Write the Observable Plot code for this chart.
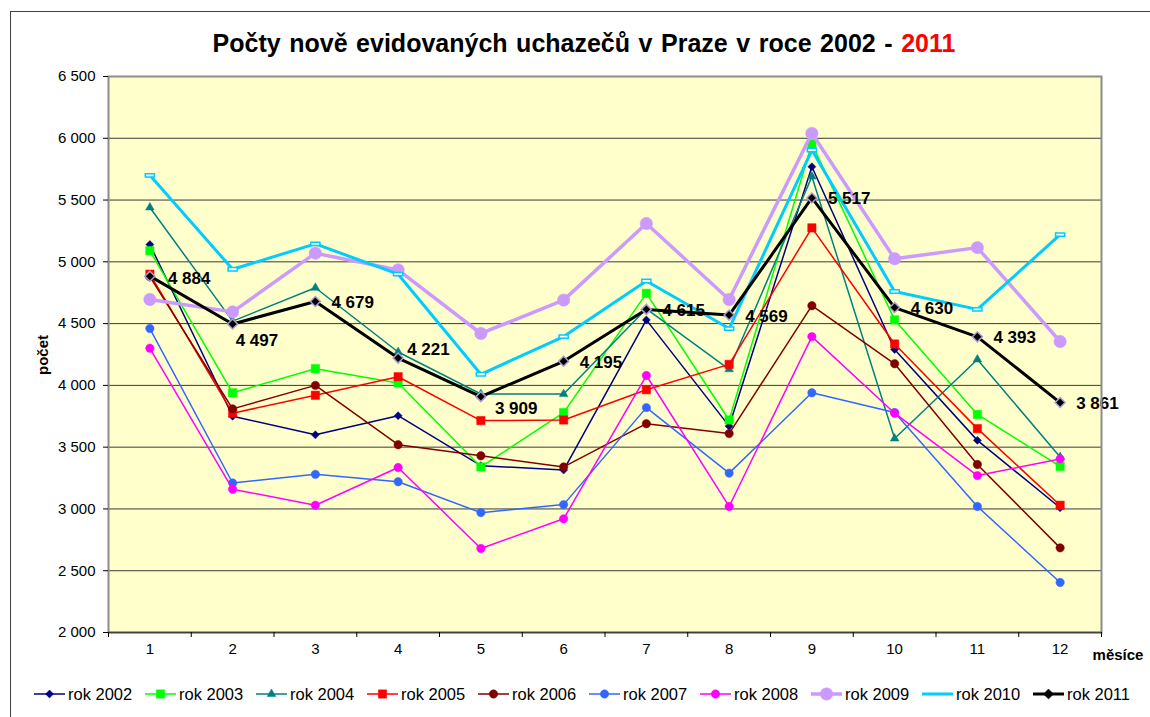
<!DOCTYPE html>
<html>
<head>
<meta charset="utf-8">
<script src="https://cdn.jsdelivr.net/npm/d3@7"></script>
<script src="https://cdn.jsdelivr.net/npm/@observablehq/plot@0.6"></script>
<style>
  html, body { margin: 0; padding: 0; background: #fff; }
  #wrap { position: relative; width: 1150px; height: 717px; overflow: hidden; background: #fff;
          font-family: "Liberation Sans", Arial, sans-serif; color: #000; }
  #border { position: absolute; left: 10px; top: 11px; width: 1200px; height: 800px; border: 1px solid #404040; box-sizing: border-box; }
  #title { position: absolute; left: 0; top: 31px; width: 1168px; text-align: center; font-weight: bold;
           font-size: 25px; line-height: 25px; white-space: nowrap; word-spacing: 1.6px; }
  #ylab { position: absolute; left: 42px; top: 355px; transform: translate(-50%, -50%) rotate(-90deg);
          font-weight: bold; font-size: 15px; line-height: 15px; white-space: nowrap; }
  #xlab { position: absolute; left: 1118px; top: 654px; transform: translate(-50%, -50%);
          font-weight: bold; font-size: 15px; line-height: 15px; white-space: nowrap; }
  #legend { position: absolute; left: 34px; top: 685px; display: flex; }
  .item { width: 111px; height: 18px; display: flex; align-items: center; flex: none; }
  .item svg { flex: none; margin-right: 3px; }
  .item span { font-size: 16.5px; line-height: 18px; white-space: nowrap; }
</style>
</head>
<body>
<div id="wrap">
  <div id="border"></div>
  <div id="title">Počty nově evidovaných uchazečů v Praze v roce 2002 - <span style="color:#ff0000">2011</span></div>
  <div id="ylab">počet</div>
  <div id="xlab">měsíce</div>
  <div id="legend"></div>
</div>
<script>
// ---------- data ----------
const months = [1, 2, 3, 4, 5, 6, 7, 8, 9, 10, 11, 12];
const seriesNames = ["rok 2002", "rok 2003", "rok 2004", "rok 2005", "rok 2006",
                     "rok 2007", "rok 2008", "rok 2009", "rok 2010", "rok 2011"];
const v2002 = [5140, 3750, 3600, 3755, 3350, 3315, 4530, 3670, 5770, 4290, 3555, 3010];
const v2003 = [5090, 3940, 4135, 4020, 3340, 3780, 4745, 3720, 5955, 4530, 3765, 3345];
const v2004 = [5440, 4520, 4790, 4270, 3930, 3930, 4620, 4130, 5690, 3570, 4210, 3420];
const v2005 = [4900, 3775, 3920, 4070, 3715, 3720, 3965, 4170, 5275, 4335, 3650, 3030];
const v2006 = [4880, 3810, 4000, 3520, 3430, 3340, 3690, 3610, 4645, 4175, 3360, 2685];
const v2007 = [4460, 3210, 3280, 3220, 2970, 3035, 3820, 3290, 3940, 3780, 3020, 2405];
const v2008 = [4300, 3160, 3030, 3335, 2680, 2920, 4080, 3020, 4395, 3775, 3270, 3405];
const v2009 = [4695, 4595, 5070, 4935, 4420, 4690, 5310, 4695, 6040, 5025, 5115, 4355];
const v2010 = [5700, 4940, 5145, 4900, 4090, 4395, 4845, 4460, 5905, 4760, 4615, 5220];
const v2011 = [4884, 4497, 4679, 4221, 3909, 4195, 4615, 4569, 5517, 4630, 4393, 3861];
const yTicks = [2000, 2500, 3000, 3500, 4000, 4500, 5000, 5500, 6000, 6500];
// label placement for the 2011 data labels (layout, not data)
const labelPlacement = ["right0", "below", "right", "upright", "belowright", "right",
                        "right", "right", "right", "right", "right", "right"];

// ---------- styles ----------
const values = [v2002, v2003, v2004, v2005, v2006, v2007, v2008, v2009, v2010, v2011];
const dashSymbol = {
  draw(ctx, size) {
    const s = Math.sqrt(size), w = s * 0.6, h = s * 0.22;
    ctx.moveTo(-w, -h); ctx.lineTo(w, -h); ctx.lineTo(w, h); ctx.lineTo(-w, h); ctx.closePath();
  }
};
const styles = [
  {color: "#000080", width: 1.5, symbol: "diamond2", r: 3.6, fill: "#000080", stroke: "#000080", sw: 0.5},
  {color: "#00ff00", width: 1.5, symbol: "square",   r: 4.7, fill: "#00ff00", stroke: "#00ff00", sw: 0.5},
  {color: "#008080", width: 1.5, symbol: "triangle", r: 3.2, fill: "#008080", stroke: "#008080", sw: 0.5},
  {color: "#ff0000", width: 1.5, symbol: "square",   r: 4.7, fill: "#ff0000", stroke: "#ff0000", sw: 0.5},
  {color: "#800000", width: 1.5, symbol: "circle",   r: 4.2, fill: "#800000", stroke: "#800000", sw: 0.5},
  {color: "#3366ff", width: 1.5, symbol: "circle",   r: 4.2, fill: "#3366ff", stroke: "#3366ff", sw: 0.5},
  {color: "#ff00ff", width: 1.5, symbol: "circle",   r: 4.2, fill: "#ff00ff", stroke: "#ff00ff", sw: 0.5},
  {color: "#cc99ff", width: 3.5, symbol: "circle",   r: 6.2, fill: "#cc99ff", stroke: "#cc99ff", sw: 0.5},
  {color: "#00ccff", width: 3,   symbol: dashSymbol, r: 4.3, fill: "#ffffff", stroke: "#00ccff", sw: 1.5},
  {color: "#000000", width: 3,   symbol: "diamond2", r: 4.5, fill: "#000000", stroke: "#a99bd0", sw: 1.5}
];
const placements = {
  right0:     {dx: 18, dy: 2},
  right:      {dx: 16, dy: 1},
  below:      {dx: 3,  dy: 17},
  upright:    {dx: 9,  dy: -9},
  belowright: {dx: 14, dy: 12}
};

const fmt = d3.formatLocale({decimal: ",", thousands: "\u00a0", grouping: [3], currency: ["", ""]}).format(",d");

const rows = seriesNames.flatMap((name, i) =>
  months.map((m, j) => ({series: name, idx: i, month: m, value: values[i][j], j})));

const marks = [
  Plot.frame({fill: "#ffffcc"}),
  Plot.gridY({ticks: yTicks.slice(1, -1), stroke: "#3a3a3a", strokeOpacity: 1, strokeWidth: 1})
];
seriesNames.forEach((name, i) => {
  const st = styles[i];
  const data = rows.filter(d => d.idx === i);
  marks.push(Plot.line(data, {x: "month", y: "value", stroke: st.color, strokeWidth: st.width,
                              strokeLinejoin: "round", curve: "linear"}));
  marks.push(Plot.dot(data, {x: "month", y: "value", symbol: () => st.symbol, r: st.r,
                             fill: st.fill, stroke: st.stroke, strokeWidth: st.sw}));
});
// data labels for 2011
const last = rows.filter(d => d.idx === seriesNames.length - 1);
Object.entries(placements).forEach(([key, off]) => {
  const sub = last.filter(d => labelPlacement[d.j] === key);
  if (sub.length) marks.push(Plot.text(sub, {x: "month", y: "value", text: d => fmt(d.value),
      textAnchor: "start", dx: off.dx, dy: off.dy, fontWeight: "bold", fontSize: 17, fill: "#000"}));
});
marks.push(
  Plot.frame({stroke: "#8c8c8c", strokeWidth: 2}),
  Plot.ruleY([2000], {stroke: "#404040", strokeWidth: 1.5}),
  Plot.axisY({ticks: yTicks, tickSize: 5, tickPadding: 8, tickFormat: fmt, fontSize: 15, label: null}),
  Plot.axisX({ticks: months, tickSize: 0, tickPadding: 11, fontSize: 15, label: null}),
  Plot.axisX({ticks: d3.range(0.5, 12.6, 1), tickSize: 5, tickFormat: () => "", label: null})
);

const svg = Plot.plot({
  width: 1150, height: 717,
  marginTop: 76, marginLeft: 108, marginRight: 49, marginBottom: 85,
  x: {type: "linear", domain: [0.5, 12.5]},
  y: {type: "linear", domain: [2000, 6500]},
  style: {fontFamily: "'Liberation Sans', Arial, sans-serif", fontSize: "15px", background: "transparent", color: "#000", overflow: "visible"},
  marks
});
svg.style.position = "absolute";
svg.style.left = "0px";
svg.style.top = "0px";
const wrap = document.getElementById("wrap");
wrap.insertBefore(svg, document.getElementById("border"));

// ---------- legend ----------
const legend = d3.select("#legend");
seriesNames.forEach((name, i) => {
  const st = styles[i];
  const item = legend.append("div").attr("class", "item");
  const s = item.append("svg").attr("width", 31).attr("height", 16);
  s.append("line").attr("x1", 0).attr("x2", 31).attr("y1", 8).attr("y2", 8)
    .attr("stroke", st.color).attr("stroke-width", st.width);
  if (i !== 8) {
    const type = st.symbol === "diamond2" ? d3.symbolDiamond2 : st.symbol === "square" ? d3.symbolSquare
               : st.symbol === "triangle" ? d3.symbolTriangle : d3.symbolCircle;
    s.append("path").attr("transform", "translate(15.5,8)")
      .attr("d", d3.symbol(type, st.r * st.r * Math.PI)())
      .attr("fill", st.fill).attr("stroke", i === 9 ? st.fill : st.stroke).attr("stroke-width", 0.5);
  }
  item.append("span").text(name);
});
</script>
</body>
</html>
